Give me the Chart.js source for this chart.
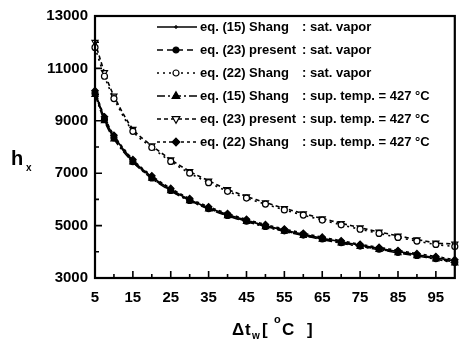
<!DOCTYPE html>
<html>
<head>
<meta charset="utf-8">
<script src="https://cdn.jsdelivr.net/npm/chart.js@4.4.1/dist/chart.umd.min.js"></script>
<style>
    body { margin: 0; background: #fff; }
    #myChart { display: block; }
</style>
</head>
<body>
<canvas id="myChart" width="460" height="347"></canvas>
<script>
// Δt_w values (°C)
const dtw = [5, 7.5, 10, 15, 20, 25, 30, 35, 40, 45, 50, 55, 60, 65, 70, 75, 80, 85, 90, 95, 100];

// h_x, saturated vapor
const eq15Sat = [10100, 9100, 8400, 7480, 6860, 6380, 5990, 5680, 5420, 5200, 5000, 4830, 4670, 4520, 4380, 4250, 4130, 4010, 3890, 3770, 3650];
const eq23Sat = [10050, 9050, 8350, 7440, 6820, 6340, 5960, 5650, 5390, 5170, 4970, 4800, 4640, 4490, 4350, 4220, 4100, 3980, 3860, 3740, 3600];
const eq22Sat = [11800, 10700, 9850, 8600, 7980, 7450, 7000, 6640, 6310, 6050, 5820, 5600, 5400, 5210, 5030, 4860, 4700, 4550, 4410, 4280, 4200];

// h_x, superheated 427 °C
const eq15Sup = [10000, 9000, 8300, 7420, 6800, 6320, 5940, 5630, 5370, 5150, 4950, 4780, 4620, 4470, 4330, 4200, 4080, 3960, 3840, 3720, 3570];
const eq23Sup = [12000, 10850, 9950, 8680, 8050, 7520, 7070, 6710, 6380, 6110, 5880, 5660, 5460, 5270, 5090, 4920, 4760, 4610, 4470, 4340, 4300];
const eq22Sup = [10150, 9150, 8450, 7520, 6900, 6420, 6030, 5720, 5460, 5240, 5040, 4870, 4710, 4560, 4420, 4290, 4170, 4050, 3930, 3820, 3700];

const legendLeft = ['eq. (15) Shang', 'eq. (23) present', 'eq. (22) Shang', 'eq. (15) Shang', 'eq. (23) present', 'eq. (22) Shang'];
const legendRight = [': sat. vapor', ': sat. vapor', ': sat. vapor', ': sup. temp. = 427 °C', ': sup. temp. = 427 °C', ': sup. temp. = 427 °C'];

const xTicks = [5, 15, 25, 35, 45, 55, 65, 75, 85, 95];
const xMinor = [10, 20, 30, 40, 50, 60, 70, 80, 90];
const yMinor = [4000, 6000, 8000, 10000, 12000];

const FONT = '"Liberation Sans", Arial, sans-serif';

function toPoints(arr) {
    return arr.map((v, i) => ({x: dtw[i], y: v}));
}

function series(data, dash, style, radius, fill, rotation) {
    return {
        data: toPoints(data),
        borderColor: '#000',
        borderWidth: 1.6,
        borderDash: dash,
        pointStyle: style,
        pointRadius: radius,
        pointRotation: rotation || 0,
        pointBackgroundColor: fill,
        pointBorderColor: '#000',
        pointBorderWidth: 1.2,
        tension: 0.3,
        clip: false
    };
}

function marker(ctx, ds, px, py) {
    const r = ds.pointRadius;
    ctx.save();
    ctx.setLineDash([]);
    ctx.lineWidth = ds.pointBorderWidth;
    ctx.strokeStyle = '#000';
    ctx.fillStyle = ds.pointBackgroundColor;
    ctx.translate(px, py);
    ctx.rotate((ds.pointRotation || 0) * Math.PI / 180);
    ctx.beginPath();
    if (ds.pointStyle === 'circle') {
        ctx.arc(0, 0, r, 0, Math.PI * 2);
    } else if (ds.pointStyle === 'triangle') {
        ctx.moveTo(0, -r * 1.2);
        ctx.lineTo(r * 1.1, r * 0.7);
        ctx.lineTo(-r * 1.1, r * 0.7);
        ctx.closePath();
    } else if (ds.pointStyle === 'rectRot') {
        ctx.moveTo(0, -r * 1.2);
        ctx.lineTo(r * 1.2, 0);
        ctx.lineTo(0, r * 1.2);
        ctx.lineTo(-r * 1.2, 0);
        ctx.closePath();
    } else {
        ctx.moveTo(-r, 0); ctx.lineTo(r, 0);
        ctx.moveTo(0, -r); ctx.lineTo(0, r);
    }
    if (ds.pointStyle !== 'cross') ctx.fill();
    ctx.stroke();
    ctx.restore();
}

const framePlugin = {
    id: 'frame',
    afterDraw(chart) {
        const ctx = chart.ctx;
        const a = chart.chartArea;
        const x = chart.scales.x;
        const y = chart.scales.y;

        ctx.save();
        ctx.strokeStyle = '#000';
        ctx.lineWidth = 2.2;
        ctx.strokeRect(a.left, a.top, a.right - a.left, a.bottom - a.top);

        ctx.lineWidth = 1.6;
        ctx.beginPath();
        y.ticks.forEach(t => {
            const py = y.getPixelForValue(t.value);
            ctx.moveTo(a.left, py); ctx.lineTo(a.left + 7, py);
        });
        yMinor.forEach(v => {
            const py = y.getPixelForValue(v);
            ctx.moveTo(a.left, py); ctx.lineTo(a.left + 4, py);
        });
        xTicks.forEach(v => {
            const px = x.getPixelForValue(v);
            ctx.moveTo(px, a.bottom); ctx.lineTo(px, a.bottom - 7);
        });
        xMinor.forEach(v => {
            const px = x.getPixelForValue(v);
            ctx.moveTo(px, a.bottom); ctx.lineTo(px, a.bottom - 4);
        });
        ctx.stroke();

        // legend
        ctx.fillStyle = '#000';
        ctx.textBaseline = 'middle';
        ctx.font = 'bold 13px ' + FONT;
        chart.data.datasets.forEach((ds, i) => {
            const ly = 27 + i * 23;
            ctx.save();
            ctx.lineWidth = ds.borderWidth;
            ctx.setLineDash(ds.borderDash);
            ctx.beginPath();
            ctx.moveTo(157, ly); ctx.lineTo(197, ly);
            ctx.stroke();
            ctx.restore();
            marker(ctx, ds, 176, ly);
            ctx.fillText(legendLeft[i], 200, ly);
            ctx.fillText(legendRight[i], 302, ly);
        });

        // axis titles
        ctx.textBaseline = 'alphabetic';
        ctx.font = 'bold 20px ' + FONT;
        ctx.fillText('h', 11, 165);
        ctx.font = 'bold 10px ' + FONT;
        ctx.fillText('x', 26, 171);

        ctx.font = 'bold 17px ' + FONT;
        ctx.fillText('\u0394', 232, 335);
        ctx.fillText('t', 245, 335);
        ctx.fillText('[', 262, 335);
        ctx.fillText('C', 282, 335);
        ctx.fillText(']', 307, 335);
        ctx.font = 'bold 10px ' + FONT;
        ctx.fillText('w', 252, 339);
        ctx.font = 'bold 11px ' + FONT;
        ctx.fillText('o', 274, 323);
        ctx.restore();
    }
};

new Chart(document.getElementById('myChart'), {
    type: 'line',
    data: {
        datasets: [
            series(eq15Sat, [], 'cross', 2, '#000'),
            series(eq23Sat, [6, 4], 'circle', 3, '#000'),
            series(eq22Sat, [2, 4], 'circle', 3, '#fff'),
            series(eq15Sup, [8, 3, 2, 3], 'triangle', 3.5, '#000'),
            series(eq23Sup, [4, 3], 'triangle', 3.5, '#fff', 180),
            series(eq22Sup, [3, 3], 'rectRot', 3.2, '#000')
        ]
    },
    options: {
        responsive: false,
        devicePixelRatio: 1,
        animation: false,
        layout: {
            padding: {top: 15, right: 3, left: 0, bottom: 0}
        },
        plugins: {
            legend: {display: false},
            tooltip: {enabled: false}
        },
        scales: {
            x: {
                type: 'linear',
                min: 5,
                max: 100,
                afterBuildTicks(scale) {
                    scale.ticks = xTicks.map(v => ({value: v}));
                },
                afterFit(scale) {
                    scale.height = 69;
                },
                grid: {display: false, drawTicks: false},
                border: {display: false},
                ticks: {
                    padding: 11,
                    color: '#000',
                    maxRotation: 0,
                    autoSkip: false,
                    callback: v => String(v),
                    font: {family: FONT, size: 15, weight: 'bold'}
                }
            },
            y: {
                min: 3000,
                max: 13000,
                afterFit(scale) {
                    scale.width = 95;
                },
                grid: {display: false, drawTicks: false},
                border: {display: false},
                ticks: {
                    stepSize: 2000,
                    padding: 7,
                    color: '#000',
                    callback: v => String(v),
                    font: {family: FONT, size: 15, weight: 'bold'}
                }
            }
        }
    },
    plugins: [framePlugin]
});
</script>
</body>
</html>
